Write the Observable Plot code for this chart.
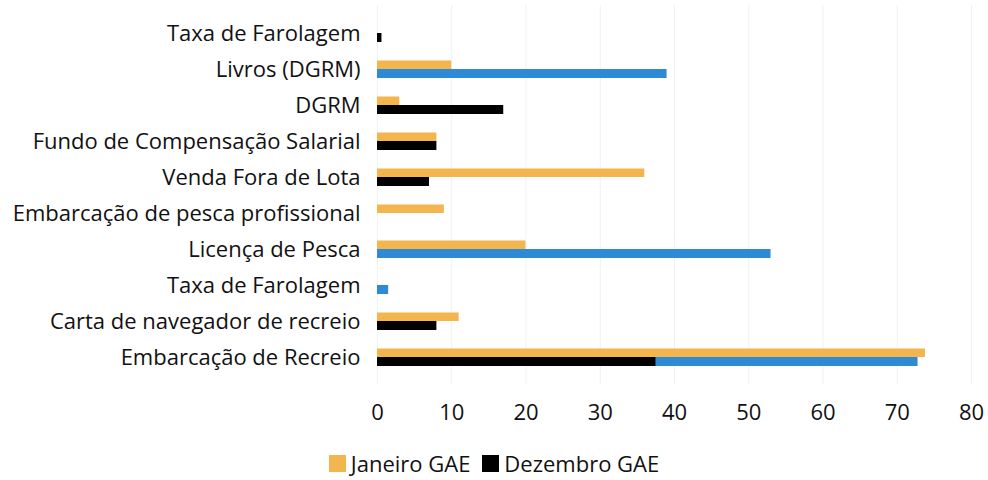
<!DOCTYPE html>
<html>
<head>
<meta charset="utf-8">
<script src="https://cdn.jsdelivr.net/npm/d3@7"></script>
<script src="https://cdn.jsdelivr.net/npm/@observablehq/plot@0.6"></script>
<style>
  html, body { margin: 0; padding: 0; background: #fff; }
  body { width: 988px; font-family: "Open Sans", sans-serif; color: #111; }
  #chart svg text { font-size: 22px; }
  #legend { display: flex; justify-content: center; align-items: center; gap: 12px; font-size: 22px; margin-top: 8px; padding-left: 0px; }
  .sw { display: inline-block; width: 17px; height: 17px; margin-right: 5px; }
</style>
</head>
<body>
<div id="chart"></div>
<div id="legend"></div>
<script>
const categories = [
  "Taxa de Farolagem",
  "Livros (DGRM)",
  "DGRM",
  "Fundo de Compensação Salarial",
  "Venda Fora de Lota",
  "Embarcação de pesca profissional",
  "Licença de Pesca",
  "Taxa de Farolagem",
  "Carta de navegador de recreio",
  "Embarcação de Recreio"
];
const janeiroGAE = [0, 10, 3, 8, 36, 9, 20, 0, 11, 73.8];
const dezembroGAE = [0.6, 0, 17, 8, 7, 0, 0, 0, 8, 37.5];
const dezembroAzul = [0, 39, 0, 0, 0, 0, 53, 1.5, 0, 72.8];
const xTicks = [0, 10, 20, 30, 40, 50, 60, 70, 80];
const seriesNames = ["Janeiro GAE", "Dezembro GAE"];

const idx = d3.range(categories.length);
const rows = (vals) => idx.map(i => ({i, v: vals[i]})).filter(d => d.v > 0);

const chart = Plot.plot({
  width: 988,
  height: 440,
  marginLeft: 377,
  marginRight: 17,
  marginTop: 5,
  marginBottom: 56,
  style: { fontFamily: "Open Sans, sans-serif", fontSize: "22px", color: "#111", background: "#fff" },
  x: { domain: [0, 80], ticks: xTicks, tickSize: 0, tickPadding: 20, label: null, grid: false },
  y: { domain: idx, padding: 0.5, tickSize: 0, tickPadding: 17, label: null, tickFormat: i => categories[i] },
  marks: [
    Plot.ruleX(xTicks, { stroke: "#eef1f5", strokeWidth: 1 }),
    Plot.barX(rows(janeiroGAE), { x: "v", y: "i", fill: "#f3b64e", insetBottom: 9, insetTop: 0.5 }),
    Plot.barX(rows(dezembroAzul), { x: "v", y: "i", fill: "#2f8ad6", insetTop: 9 }),
    Plot.barX(rows(dezembroGAE), { x: "v", y: "i", fill: "#000", insetTop: 9 })
  ]
});
document.getElementById("chart").appendChild(chart);

const legend = document.getElementById("legend");
const colors = ["#f3b64e", "#000"];
seriesNames.forEach((name, k) => {
  const s = document.createElement("span");
  s.innerHTML = `<span class="sw" style="background:${colors[k]}"></span>${name}`;
  s.style.display = "inline-flex";
  s.style.alignItems = "center";
  legend.appendChild(s);
});
</script>
</body>
</html>
